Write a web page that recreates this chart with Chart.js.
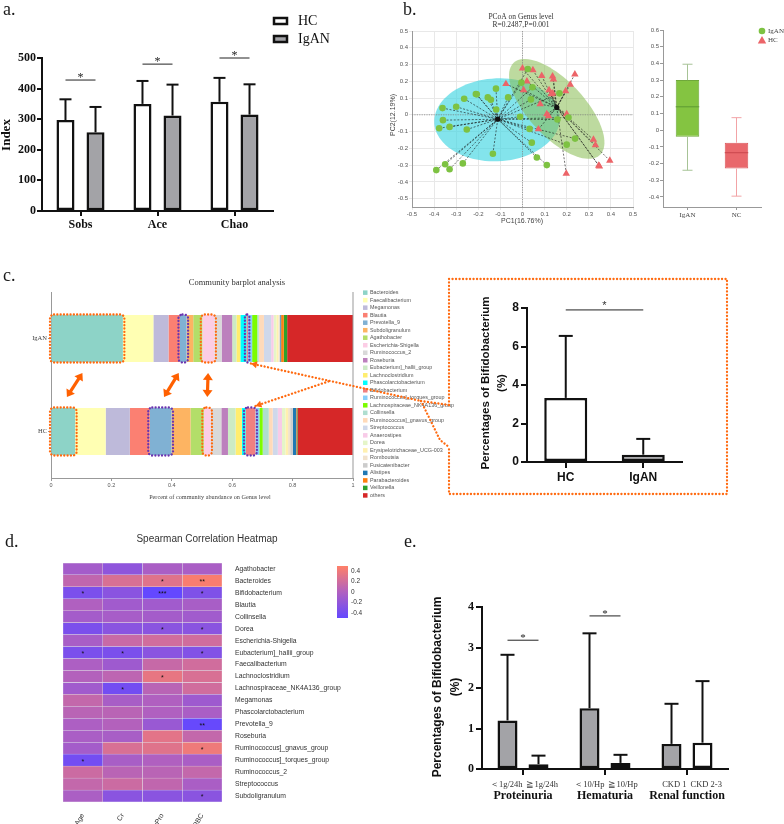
<!DOCTYPE html>
<html><head><meta charset="utf-8"><title>Figure</title>
<script src="https://cdn.jsdelivr.net/npm/chart.js@4.4.1/dist/chart.umd.min.js"></script>
<style>
html,body{margin:0;padding:0;background:#fff;}
#page{position:relative;width:784px;height:824px;overflow:hidden;background:#fff;}
#page canvas{position:absolute;}
.plabel{position:absolute;font-family:'Liberation Serif','Times New Roman',serif;font-size:18px;line-height:18px;color:#1a1a1a;}
</style></head>
<body><div id="page">
<canvas id="cA" width="340" height="245" style="left:0px;top:0px"></canvas>
<canvas id="cB1" width="290" height="235" style="left:360px;top:0px"></canvas>
<canvas id="cB2" width="154" height="235" style="left:630px;top:0px"></canvas>
<canvas id="cC1" width="455" height="230" style="left:0px;top:270px"></canvas>
<canvas id="cC2" width="290" height="230" style="left:445px;top:270px"></canvas>
<canvas id="cD" width="400" height="304" style="left:0px;top:520px"></canvas>
<canvas id="cE" width="384" height="304" style="left:400px;top:520px"></canvas>
<div class="plabel" style="left:3px;top:0px">a.</div>
<div class="plabel" style="left:403px;top:0px">b.</div>
<div class="plabel" style="left:3px;top:266px">c.</div>
<div class="plabel" style="left:5px;top:532px">d.</div>
<div class="plabel" style="left:404px;top:532px">e.</div>
</div>
<script>
// ---------- Panel a: alpha diversity ----------
const alphaCats = ['Sobs', 'Ace', 'Chao'];
const alphaHC = [297, 350, 357];
const alphaHCsd = [365, 425, 435];
const alphaIgAN = [257, 312, 315];
const alphaIgANsd = [340, 413, 414];
const alphaSig = [428, 480, 500];
const alphaTicks = [0, 100, 200, 300, 400, 500];

// ---------- Panel b: PCoA ----------
const iganPC1 = [-0.39,-0.35,-0.33,-0.27,-0.377,-0.36,-0.362,-0.33,-0.30,-0.264,-0.252,-0.211,-0.207,-0.157,-0.143,-0.12,-0.119,-0.134,-0.065,-0.011,-0.005,0.024,0.045,0.038,0.032,0.042,0.065,0.11,0.158,0.167,0.208,0.2,0.238];
const iganPC2 = [-0.33,-0.295,-0.325,-0.29,-0.08,-0.032,0.04,-0.072,0.048,0.096,-0.088,0.124,0.122,0.104,0.09,0.156,0.032,-0.232,0.104,-0.012,0.192,0.273,0.164,0.092,-0.084,-0.166,-0.255,-0.30,-0.028,0.128,-0.016,-0.178,-0.142];
const hcPC1 = [0,0.047,-0.075,0.02,0.005,0.087,0.136,0.14,0.237,0.216,0.195,0.12,0.13,0.137,0.08,0.11,0.118,0.2,0.072,0.321,0.33,0.345,0.348,0.395,0.198];
const hcPC2 = [0.277,0.267,0.184,0.2,0.148,0.232,0.23,0.212,0.242,0.18,0.142,0.148,0.124,0.128,0.064,0.004,-0.008,0.004,-0.086,-0.148,-0.18,-0.303,-0.307,-0.273,-0.35];
const centroidX = [-0.112, 0.155];
const centroidY = [-0.026, 0.044];
const ellipseCX = [-0.115, 0.155];
const ellipseCY = [-0.03, 0.035];
const ellipseRX = [0.285, 0.34];
const ellipseRY = [0.247, 0.14];
const ellipseAngle = [8, -58];
const pcoaXTicks = [-0.5,-0.4,-0.3,-0.2,-0.1,0,0.1,0.2,0.3,0.4,0.5];
const pcoaYTicks = [-0.5,-0.4,-0.3,-0.2,-0.1,0,0.1,0.2,0.3,0.4,0.5];

// ---------- Panel b: box plot of PC1 ----------
const boxGroups = ['IgAN', 'NC'];
const boxMin = [-0.24, -0.395];
const boxQ1 = [-0.04, -0.23];
const boxMed = [0.14, -0.135];
const boxQ3 = [0.30, -0.075];
const boxMax = [0.395, 0.075];
const boxTicks = [-0.4,-0.3,-0.2,-0.1,0,0.1,0.2,0.3,0.4,0.5,0.6];

// ---------- Panel c: community barplot ----------
const genera = ['Bacteroides','Faecalibacterium','Megamonas','Blautia','Prevotella_9','Subdoligranulum','Agathobacter','Escherichia-Shigella','Ruminococcus_2','Roseburia','Eubacterium]_hallii_group','Lachnoclostridium','Phascolarctobacterium','Bifidobacterium','Ruminococcus]_torques_group','Lachnospiraceae_NK4A136_group','Collinsella','Ruminococcus]_gnavus_group','Streptococcus','Anaerostipes','Dorea','Erysipelotrichaceae_UCG-003','Romboutsia','Fusicatenibacter','Alistipes','Parabacteroides','Veillonella','others'];
const iganAbund = [0.238,0.101,0.050,0.038,0.022,0.022,0.030,0.040,0.024,0.035,0.014,0.013,0.020,0.005,0.014,0.017,0.005,0.017,0.024,0.008,0.009,0.007,0.003,0.003,0.003,0.009,0.011,0.218];
const hcAbund = [0.080,0.101,0.080,0.066,0.072,0.063,0.044,0.022,0.036,0.022,0.025,0.021,0.012,0.033,0.013,0.011,0.020,0.013,0.017,0.014,0.011,0.009,0.007,0.009,0.011,0.002,0.002,0.183];
const genusColors = ['#8dd3c7','#ffffb3','#bebada','#fb8072','#80b1d3','#fdb462','#b3de69','#fccde5','#d9d9d9','#bc80bd','#ccebc5','#ffed6f','#00ffff','#f08080','#87cefa','#7cfc00','#afdecf','#ffdab9','#cfd8ea','#f8cbe8','#e5f5c8','#fff0b0','#f1e2cc','#cccccc','#1f78b4','#ff7f0e','#2ca02c','#d62728'];
const commTicks = [0, 0.2, 0.4, 0.6, 0.8, 1];

// ---------- Panel c: Bifidobacterium HC vs IgAN ----------
const bifidoGroups = ['HC', 'IgAN'];
const bifidoMean = [3.33, 0.38];
const bifidoSD = [6.55, 1.2];
const bifidoSig = 7.9;
const bifidoTicks = [0, 2, 4, 6, 8];

// ---------- Panel d: Spearman heatmap ----------
const heatGenera = ['Agathobacter','Bacteroides','Bifidobacterium','Blautia','Collinsella','Dorea','Escherichia-Shigella','Eubacterium]_hallii_group','Faecalibacterium','Lachnoclostridium','Lachnospiraceae_NK4A136_group','Megamonas','Phascolarctobacterium','Prevotella_9','Roseburia','Ruminococcus]_gnavus_group','Ruminococcus]_torques_group','Ruminococcus_2','Streptococcus','Subdoligranulum'];
const heatVars = ['Age', 'Cr', 'uPro', 'uRBC'];
const corrAge  = [-0.08, 0.10,-0.35, 0.00,-0.08,-0.35,-0.05,-0.35,-0.02, 0.02,-0.10, 0.12, 0.06,-0.02,-0.04,-0.08,-0.40, 0.17, 0.12,-0.03];
const corrCr   = [-0.22, 0.25,-0.25,-0.10,-0.06,-0.25, 0.15,-0.35,-0.12, 0.08,-0.40,-0.05, 0.06, 0.02,-0.05, 0.25,-0.05, 0.06, 0.17,-0.25];
const corrUPro = [-0.04, 0.30,-0.50,-0.10,-0.08,-0.25, 0.20,-0.25, 0.14, 0.35, 0.06, 0.00, 0.00,-0.15, 0.32, 0.30, 0.00, 0.06, 0.10,-0.25];
const corrURBC = [-0.04, 0.46,-0.32,-0.05,-0.10,-0.25, 0.20,-0.30, 0.20, 0.25, 0.20,-0.12,-0.04,-0.48, 0.12, 0.40,-0.04, 0.12,-0.04,-0.25];
const sigAge  = ['','','*','','','','','*','','','','','','','','','*','','',''];
const sigCr   = ['','','','','','','','*','','','*','','','','','','','','',''];
const sigUPro = ['','*','***','','','*','','','','*','','','','','','','','','',''];
const sigURBC = ['','**','*','','','*','','*','','','','','','**','','*','','','','*'];
const cbarTicks = [0.4, 0.2, 0, -0.2, -0.4];

// ---------- Panel e: Bifidobacterium by clinical subgroup ----------
const eGroups = ['Proteinuria', 'Hematuria', 'Renal function'];
const eLowLabels = ['\uFF1C1g/24h', '\uFF1C10/Hp', 'CKD 1'];
const eHighLabels = ['\u22671g/24h', '\u226710/Hp', 'CKD 2-3'];
const eLowMean = [1.2, 1.5, 0.62];
const eLowSD = [2.82, 3.35, 1.61];
const eHighMean = [0.12, 0.15, 0.65];
const eHighSD = [0.33, 0.35, 2.17];
const eSig = [3.18, 3.78, null];
const eTicks = [0, 1, 2, 3, 4];

// ================= helpers =================
const SERIF = "'Liberation Serif','Times New Roman',serif";
const SANS = "'Liberation Sans',Arial,sans-serif";
function fmt1(v){ return String(Math.round(v*10)/10); }
function drawText(ctx,s,x,y,font,color,align,base,rot){
  ctx.save(); ctx.translate(x,y); if(rot) ctx.rotate(rot);
  ctx.font=font; ctx.fillStyle=color; ctx.textAlign=align||'center'; ctx.textBaseline=base||'middle';
  ctx.fillText(s,0,0); ctx.restore();
}
function line(ctx,x1,y1,x2,y2,color,w,dash){
  ctx.save(); ctx.strokeStyle=color; ctx.lineWidth=w; if(dash) ctx.setLineDash(dash);
  ctx.beginPath(); ctx.moveTo(x1,y1); ctx.lineTo(x2,y2); ctx.stroke(); ctx.restore();
}
function errBar(ctx,x,y0,y1,cap,w,color){
  line(ctx,x,y0,x,y1,color,w); line(ctx,x-cap,y1,x+cap,y1,color,w);
}
function corrColor(v){
  const stops=[[-0.5,[100,72,255]],[0,[176,96,192]],[0.5,[255,128,104]]];
  v=Math.max(-0.5,Math.min(0.5,v));
  const a=v>0?stops[1]:stops[0], b=v>0?stops[2]:stops[1];
  const t=(v-a[0])/(b[0]-a[0]);
  const c=a[1].map((x,k)=>Math.round(x+(b[1][k]-x)*t));
  return 'rgb('+c[0]+','+c[1]+','+c[2]+')';
}
function head(ctx,x,y,ang,hl,hw){
  ctx.beginPath(); ctx.moveTo(x,y);
  ctx.lineTo(x-hl*Math.cos(ang)+hw*Math.sin(ang), y-hl*Math.sin(ang)-hw*Math.cos(ang));
  ctx.lineTo(x-hl*Math.cos(ang)-hw*Math.sin(ang), y-hl*Math.sin(ang)+hw*Math.cos(ang));
  ctx.closePath(); ctx.fill();
}
function dblArrow(ctx,x1,y1,x2,y2,color){
  const ang=Math.atan2(y2-y1,x2-x1), hl=7, hw=5;
  ctx.save(); ctx.strokeStyle=color; ctx.fillStyle=color; ctx.lineWidth=3.2;
  ctx.beginPath(); ctx.moveTo(x1+Math.cos(ang)*hl*0.7,y1+Math.sin(ang)*hl*0.7);
  ctx.lineTo(x2-Math.cos(ang)*hl*0.7,y2-Math.sin(ang)*hl*0.7); ctx.stroke();
  head(ctx,x2,y2,ang,hl,hw); head(ctx,x1,y1,ang+Math.PI,hl,hw); ctx.restore();
}
function dotRect(ctx,x0,y0,x1,y1,color,r){
  ctx.save(); ctx.strokeStyle=color; ctx.lineWidth=2.3; ctx.lineCap='round'; ctx.setLineDash([0.1,3.2]);
  ctx.beginPath(); ctx.roundRect(x0,y0,x1-x0,y1-y0,r); ctx.stroke(); ctx.restore();
}
function dotLine(ctx,pts,color){
  ctx.save(); ctx.strokeStyle=color; ctx.lineWidth=2.3; ctx.lineCap='round'; ctx.setLineDash([0.1,3.4]);
  ctx.beginPath(); ctx.moveTo(pts[0][0],pts[0][1]); for(let i=1;i<pts.length;i++) ctx.lineTo(pts[i][0],pts[i][1]);
  ctx.stroke(); ctx.restore();
}
function fixedTicks(arr){ return function(s){ s.ticks = arr.map(v=>({value:v})); }; }
const base = {responsive:false, maintainAspectRatio:false, animation:false, devicePixelRatio:1,
  plugins:{legend:{display:false}, tooltip:{enabled:false}}};
function opts(extra){ return Object.assign({}, base, extra); }
const ORANGE = '#ff6a10', PURPLE = '#6a35b0';

// ================= Panel a =================
const plugA = {id:'plugA',
  afterDatasetsDraw(chart){
    const ctx=chart.ctx, ys=chart.scales.y;
    [alphaHCsd, alphaIgANsd].forEach((sd,d)=>{
      chart.getDatasetMeta(d).data.forEach((el,i)=>errBar(ctx,el.x,el.y,ys.getPixelForValue(sd[i]),6,2,'#111'));
    });
    alphaSig.forEach((v,i)=>{
      const a=chart.getDatasetMeta(0).data[i], b=chart.getDatasetMeta(1).data[i];
      const py=ys.getPixelForValue(v);
      line(ctx,a.x,py,b.x,py,'#222',1);
      drawText(ctx,'*',(a.x+b.x)/2,py-2,'12px '+SERIF,'#222','center','middle');
    });
  },
  afterDraw(chart){
    const ctx=chart.ctx;
    const items=[['HC','#ffffff'],['IgAN','#a3a3a7']];
    items.forEach((it,i)=>{
      const y=21+i*18;
      ctx.save(); ctx.fillStyle=it[1]; ctx.strokeStyle='#111'; ctx.lineWidth=2.5;
      ctx.fillRect(274,y-3,13,6); ctx.strokeRect(274,y-3,13,6); ctx.restore();
      drawText(ctx,it[0],298,y+0.5,'14px '+SERIF,'#111','left','middle');
    });
    drawText(ctx,'Index',7,135,'bold 13px '+SERIF,'#111','center','middle',-Math.PI/2);
  }
};
new Chart(document.getElementById('cA'), {
  type:'bar',
  data:{labels:alphaCats, datasets:[
    {label:'HC', data:alphaHC, backgroundColor:'#ffffff', borderColor:'#111', borderWidth:2.5, borderSkipped:false, categoryPercentage:0.78, barPercentage:0.6},
    {label:'IgAN', data:alphaIgAN, backgroundColor:'#a3a3a7', borderColor:'#111', borderWidth:2.5, borderSkipped:false, categoryPercentage:0.78, barPercentage:0.6}
  ]},
  options:opts({
    layout:{padding:{top:58,right:67,left:0,bottom:0}},
    scales:{
      x:{grid:{drawOnChartArea:false, offset:false, color:'#111', lineWidth:2, tickLength:5}, border:{color:'#111', width:2},
         ticks:{font:{family:SERIF, weight:'bold', size:12}, color:'#111', padding:2}, afterFit(s){s.height=34;}},
      y:{min:0, max:500, afterBuildTicks:fixedTicks(alphaTicks), grid:{drawOnChartArea:false, color:'#111', lineWidth:2, tickLength:5},
         border:{color:'#111', width:2}, ticks:{font:{family:SERIF, weight:'bold', size:12}, color:'#111', padding:1}, afterFit(s){s.width=42;}}
    }
  }),
  plugins:[plugA]
});

// ================= Panel b: PCoA =================
const ellipseFill = ['rgba(64,214,226,0.65)', 'rgba(134,188,80,0.55)'];
const plugB1 = {id:'plugB1',
  beforeDatasetsDraw(chart){
    const ctx=chart.ctx, xs=chart.scales.x, ys=chart.scales.y, ca=chart.chartArea;
    ellipseCX.forEach((cx,g)=>{
      const th=ellipseAngle[g]*Math.PI/180;
      ctx.save(); ctx.beginPath();
      for(let s=0;s<=90;s++){
        const t=s/90*2*Math.PI;
        const dx=ellipseRX[g]*Math.cos(t)*Math.cos(th)-ellipseRY[g]*Math.sin(t)*Math.sin(th);
        const dy=ellipseRX[g]*Math.cos(t)*Math.sin(th)+ellipseRY[g]*Math.sin(t)*Math.cos(th);
        const px=xs.getPixelForValue(cx+dx), py=ys.getPixelForValue(ellipseCY[g]+dy);
        if(s) ctx.lineTo(px,py); else ctx.moveTo(px,py);
      }
      ctx.closePath(); ctx.fillStyle=ellipseFill[g]; ctx.fill(); ctx.restore();
    });
    const x0=xs.getPixelForValue(0), y0=ys.getPixelForValue(0);
    line(ctx,x0,ca.top,x0,ca.bottom,'#888',0.8,[1.2,1.2]);
    line(ctx,ca.left,y0,ca.right,y0,'#888',0.8,[1.2,1.2]);
    [[iganPC1,iganPC2],[hcPC1,hcPC2]].forEach((g,k)=>{
      const cx=xs.getPixelForValue(centroidX[k]), cy=ys.getPixelForValue(centroidY[k]);
      g[0].forEach((x,i)=>line(ctx,xs.getPixelForValue(x),ys.getPixelForValue(g[1][i]),cx,cy,'rgba(20,20,20,0.85)',0.7,[2,1.6]));
      ctx.save(); ctx.fillStyle='#111'; ctx.beginPath(); ctx.arc(cx,cy,2.6,0,Math.PI*2); ctx.fill(); ctx.restore();
    });
  },
  afterDraw(chart){
    const ctx=chart.ctx;
    drawText(ctx,'PCoA on Genus level',161,17,'7.5px '+SERIF,'#333','center','middle');
    drawText(ctx,'R=0.2487,P=0.001',161,25,'7.5px '+SERIF,'#333','center','middle');
    drawText(ctx,'PC1(16.76%)',162,221,'7px '+SANS,'#444','center','middle');
    drawText(ctx,'PC2(12.19%)',33,115,'7px '+SANS,'#444','center','middle',-Math.PI/2);
  }
};
new Chart(document.getElementById('cB1'), {
  type:'scatter',
  data:{datasets:[
    {label:'IgAN', data:iganPC1.map((x,i)=>({x:x,y:iganPC2[i]})), pointStyle:'circle', pointRadius:3.3, backgroundColor:'#7dc242', borderColor:'#7dc242', borderWidth:0},
    {label:'HC', data:hcPC1.map((x,i)=>({x:x,y:hcPC2[i]})), pointStyle:'triangle', pointRadius:4.3, backgroundColor:'#ec6468', borderColor:'#ec6468', borderWidth:0}
  ]},
  options:opts({
    layout:{padding:{top:31,right:17,left:0,bottom:0}},
    scales:{
      x:{type:'linear', min:-0.5, max:0.5, afterBuildTicks:fixedTicks(pcoaXTicks), grid:{color:'#e8e8e8', tickLength:3},
         border:{color:'#999'}, ticks:{font:{family:SANS,size:6}, color:'#555', padding:1, callback:v=>fmt1(v)}, afterFit(s){s.height=28;}},
      y:{type:'linear', min:-0.55, max:0.5, afterBuildTicks:fixedTicks(pcoaYTicks), grid:{color:'#e8e8e8', tickLength:3},
         border:{color:'#999'}, ticks:{font:{family:SANS,size:6}, color:'#555', padding:1, callback:v=>fmt1(v)}, afterFit(s){s.width=52;}}
    }
  }),
  plugins:[plugB1]
});

// ================= Panel b: box plot =================
const whiskerColors = ['#a7c396', '#f2a3a6'];
const medianColors = ['#5d9a33', '#c9464c'];
const plugB2 = {id:'plugB2',
  afterDatasetsDraw(chart){
    const ctx=chart.ctx, ys=chart.scales.y;
    chart.getDatasetMeta(0).data.forEach((el,i)=>{
      const x=el.x, w=el.width;
      const yMax=ys.getPixelForValue(boxMax[i]), yQ3=ys.getPixelForValue(boxQ3[i]);
      const yQ1=ys.getPixelForValue(boxQ1[i]), yMin=ys.getPixelForValue(boxMin[i]), yMed=ys.getPixelForValue(boxMed[i]);
      errBar(ctx,x,yQ3,yMax,5,1,whiskerColors[i]);
      errBar(ctx,x,yQ1,yMin,5,1,whiskerColors[i]);
      line(ctx,x-w/2,yMed,x+w/2,yMed,medianColors[i],1);
    });
  },
  afterDraw(chart){
    const ctx=chart.ctx;
    ctx.save(); ctx.fillStyle='#7dc242'; ctx.beginPath(); ctx.arc(132,31,3.3,0,Math.PI*2); ctx.fill();
    ctx.fillStyle='#ec6468'; ctx.beginPath(); ctx.moveTo(132,36); ctx.lineTo(136.2,43.5); ctx.lineTo(127.8,43.5); ctx.closePath(); ctx.fill(); ctx.restore();
    drawText(ctx,'IgAN',138,31,'7px '+SERIF,'#444','left','middle');
    drawText(ctx,'HC',138,40.5,'7px '+SERIF,'#444','left','middle');
  }
};
new Chart(document.getElementById('cB2'), {
  type:'bar',
  data:{labels:boxGroups, datasets:[{data:boxQ1.map((q,i)=>[q,boxQ3[i]]), backgroundColor:['#84c441','#e9686c'],
    borderColor:['#6fa83a','#d9585c'], borderWidth:1, borderSkipped:false, barPercentage:0.48, categoryPercentage:1}]},
  options:opts({
    layout:{padding:{top:30,right:23,left:0,bottom:0}},
    scales:{
      x:{grid:{drawOnChartArea:false, offset:false, color:'#999', tickLength:3}, border:{color:'#999'},
         ticks:{font:{family:SERIF,size:7}, color:'#444', padding:1}, afterFit(s){s.height=28;}},
      y:{min:-0.46, max:0.6, afterBuildTicks:fixedTicks(boxTicks), grid:{drawOnChartArea:false, color:'#999', tickLength:3},
         border:{color:'#999'}, ticks:{font:{family:SANS,size:6}, color:'#555', padding:1, callback:v=>fmt1(v)}, afterFit(s){s.width=33;}}
    }
  }),
  plugins:[plugB2]
});

// ================= Panel c: community barplot =================
function seg(chart,k,j){
  const el=chart.getDatasetMeta(k).data[j];
  return {x0:Math.min(el.base,el.x), x1:Math.max(el.base,el.x), y0:el.y-el.height/2, y1:el.y+el.height/2};
}
const highlightIdx = [0, 4, 7, 13];
const highlightCol = [ORANGE, PURPLE, ORANGE, PURPLE];
const arrowIdx = [0, 4, 7];
const plugC1 = {id:'plugC1',
  afterDraw(chart){
    const ctx=chart.ctx, ca=chart.chartArea;
    line(ctx,ca.right,ca.top,ca.right,ca.bottom,'#999',1);
    drawText(ctx,'Community barplot analysis',237,13,'8.5px '+SERIF,'#333','center','middle');
    drawText(ctx,'Percent of community abundance on Genus level',210,227,'6.2px '+SERIF,'#444','center','middle');
    genera.forEach((g,i)=>{
      const y=22.7+i*7.51;
      ctx.save(); ctx.fillStyle=genusColors[i]; ctx.fillRect(363,y-2.3,4.5,4.5); ctx.restore();
      drawText(ctx,g,370,y,'5.4px '+SANS,'#555','left','middle');
    });
    highlightIdx.forEach((k,n)=>{
      [0,1].forEach(j=>{
        const s=seg(chart,k,j);
        dotRect(ctx,s.x0-1.5,s.y0-0.5,s.x1+1.5,s.y1+0.5,highlightCol[n],4);
      });
    });
    arrowIdx.forEach(k=>{
      const a=seg(chart,k,0), b=seg(chart,k,1);
      const xi=(a.x0+a.x1)/2, xh=(b.x0+b.x1)/2;
      dblArrow(ctx,xh+(xi-xh)*0.8,a.y1+11,xh+(xi-xh)*0.15,b.y0-11,'#ff6000');
    });
    const bi=seg(chart,13,0), bh=seg(chart,13,1);
    const tipI=[bi.x1+3,bi.y1+1.5], tipH=[bh.x1,bh.y0-2];
    const J1=[421,131];
    dotLine(ctx,[tipI,J1],ORANGE);
    const t=(330-tipI[0])/(J1[0]-tipI[0]);
    const J2=[330,tipI[1]+(J1[1]-tipI[1])*t];
    dotLine(ctx,[tipH,J2],ORANGE);
    dotLine(ctx,[J1,[449,135]],ORANGE);
    dotLine(ctx,[J1,[440,170],[449,177]],ORANGE);
    ctx.save(); ctx.fillStyle=ORANGE;
    head(ctx,tipI[0],tipI[1],Math.atan2(tipI[1]-J1[1],tipI[0]-J1[0]),6,3.5);
    head(ctx,tipH[0],tipH[1],Math.atan2(tipH[1]-J2[1],tipH[0]-J2[0]),6,3.5);
    ctx.restore();
  }
};
new Chart(document.getElementById('cC1'), {
  type:'bar',
  data:{labels:['IgAN','HC'], datasets:genera.map((g,k)=>({label:g, data:[iganAbund[k], hcAbund[k]], backgroundColor:genusColors[k],
    borderWidth:0, barPercentage:1, categoryPercentage:0.505}))},
  options:opts({
    indexAxis:'y',
    layout:{padding:{top:22,right:102,left:0,bottom:0}},
    scales:{
      x:{stacked:true, min:0, max:1, afterBuildTicks:fixedTicks(commTicks), grid:{drawOnChartArea:false, color:'#999', tickLength:3},
         border:{color:'#999'}, ticks:{font:{family:SANS,size:5.5}, color:'#555', padding:1, callback:v=>fmt1(v)}, afterFit(s){s.height=22;}},
      y:{stacked:true, grid:{drawOnChartArea:false, offset:false, color:'#999', tickLength:3}, border:{color:'#999'},
         ticks:{font:{family:SERIF,size:6.5}, color:'#444', padding:1}, afterFit(s){s.width=51;}}
    }
  }),
  plugins:[plugC1]
});

// ================= Panel c: Bifidobacterium inset =================
const plugC2 = {id:'plugC2',
  afterDatasetsDraw(chart){
    const ctx=chart.ctx, ys=chart.scales.y, meta=chart.getDatasetMeta(0);
    meta.data.forEach((el,i)=>errBar(ctx,el.x,el.y,ys.getPixelForValue(bifidoSD[i]),7,2,'#111'));
    const py=ys.getPixelForValue(bifidoSig), a=meta.data[0], b=meta.data[1];
    line(ctx,a.x,py,b.x,py,'#222',1);
    drawText(ctx,'*',(a.x+b.x)/2,py-4,'11px '+SANS,'#333','center','middle');
  },
  afterDraw(chart){
    const ctx=chart.ctx;
    drawText(ctx,'Percentages of Bifidobacterium',41,113,'bold 11.5px '+SANS,'#111','center','middle',-Math.PI/2);
    drawText(ctx,'(%)',57,113,'bold 11.5px '+SANS,'#111','center','middle',-Math.PI/2);
    dotLine(ctx,[[4,135],[4,9],[282,9],[282,224],[4,224],[4,177]],ORANGE);
  }
};
new Chart(document.getElementById('cC2'), {
  type:'bar',
  data:{labels:bifidoGroups, datasets:[{data:bifidoMean, backgroundColor:['#ffffff','#a3a3a7'], borderColor:'#111', borderWidth:2.5,
    borderSkipped:false, barPercentage:0.555, categoryPercentage:1}]},
  options:opts({
    layout:{padding:{top:38,right:53,left:0,bottom:0}},
    scales:{
      x:{grid:{drawOnChartArea:false, offset:false, color:'#111', lineWidth:2, tickLength:6}, border:{color:'#111', width:2},
         ticks:{font:{family:SANS, weight:'bold', size:12}, color:'#111', padding:2}, afterFit(s){s.height=38;}},
      y:{min:0, max:8, afterBuildTicks:fixedTicks(bifidoTicks), grid:{drawOnChartArea:false, color:'#111', lineWidth:2, tickLength:6},
         border:{color:'#111', width:2}, ticks:{font:{family:SANS, weight:'bold', size:12}, color:'#111', padding:2}, afterFit(s){s.width=82;}}
    }
  }),
  plugins:[plugC2]
});

// ================= Panel d: heatmap =================
const corrCols = [corrAge, corrCr, corrUPro, corrURBC];
const sigCols = [sigAge, sigCr, sigUPro, sigURBC];
const plugD = {id:'plugD',
  afterDatasetsDraw(chart){
    const ctx=chart.ctx;
    sigCols.forEach((arr,d)=>{
      chart.getDatasetMeta(d).data.forEach((el,i)=>{
        if(arr[i]) drawText(ctx,arr[i],(el.x+el.base)/2,el.y+1.5,'7px '+SANS,'#111','center','middle');
      });
    });
  },
  afterDraw(chart){
    const ctx=chart.ctx;
    drawText(ctx,'Spearman Correlation Heatmap',207,19,'10px '+SANS,'#333','center','middle');
    const top=46, bot=98, mid=(top+bot)/2, k=(bot-top);
    const gr=ctx.createLinearGradient(0,top,0,bot);
    gr.addColorStop(0,corrColor(0.5)); gr.addColorStop(0.5,corrColor(0)); gr.addColorStop(1,corrColor(-0.5));
    ctx.save(); ctx.fillStyle=gr; ctx.fillRect(337,top,11,bot-top); ctx.restore();
    cbarTicks.forEach(v=>drawText(ctx,fmt1(v),351,mid-v*k,'6.5px '+SANS,'#333','left','middle'));
  }
};
new Chart(document.getElementById('cD'), {
  type:'bar',
  data:{labels:heatGenera, datasets:heatVars.map((v,d)=>({label:v, data:heatGenera.map(()=>1),
    backgroundColor:corrCols[d].map(corrColor), borderColor:'rgba(225,225,230,0.9)', borderWidth:0.5, borderSkipped:false,
    barPercentage:1, categoryPercentage:1}))},
  options:opts({
    indexAxis:'y',
    layout:{padding:{top:43,right:0,left:63,bottom:0}},
    scales:{
      x:{type:'linear', stacked:true, min:0, max:4, afterBuildTicks:fixedTicks([0.5,1.5,2.5,3.5]),
         grid:{display:false}, border:{display:false},
         ticks:{font:{family:SANS,size:7}, color:'#333', padding:2, minRotation:60, maxRotation:60, autoSkip:false,
                callback:(v)=>heatVars[Math.floor(v)]}, afterFit(s){s.height=22;}},
      y:{position:'right', stacked:true, grid:{display:false}, border:{display:false},
         ticks:{font:{family:SANS,size:6.8}, color:'#333', padding:5, autoSkip:false}, afterFit(s){s.width=178;}}
    }
  }),
  plugins:[plugD]
});

// ================= Panel e =================
const plugE = {id:'plugE',
  afterDatasetsDraw(chart){
    const ctx=chart.ctx, ys=chart.scales.y;
    const lo=chart.getDatasetMeta(0).data, hi=chart.getDatasetMeta(1).data;
    lo.forEach((el,i)=>errBar(ctx,el.x,el.y,ys.getPixelForValue(eLowSD[i]),7,2,'#111'));
    hi.forEach((el,i)=>errBar(ctx,el.x,el.y,ys.getPixelForValue(eHighSD[i]),7,2,'#111'));
    eSig.forEach((v,i)=>{
      if(v===null) return;
      const py=ys.getPixelForValue(v);
      line(ctx,lo[i].x,py,hi[i].x,py,'#222',1);
      drawText(ctx,'*',(lo[i].x+hi[i].x)/2,py-2,'11px '+SERIF,'#222','center','middle');
    });
    lo.forEach((el,i)=>drawText(ctx,eLowLabels[i],el.x+15,265,'8.5px '+SERIF,'#333','right','middle'));
    hi.forEach((el,i)=>drawText(ctx,eHighLabels[i],el.x-12,265,'8.5px '+SERIF,'#333','left','middle'));
  },
  afterDraw(chart){
    const ctx=chart.ctx;
    drawText(ctx,'Percentages of Bifidobacterium',38,167,'bold 12px '+SANS,'#111','center','middle',-Math.PI/2);
    drawText(ctx,'(%)',56,167,'bold 12px '+SANS,'#111','center','middle',-Math.PI/2);
  }
};
new Chart(document.getElementById('cE'), {
  type:'bar',
  data:{labels:eGroups, datasets:[
    {label:'low', data:eLowMean, backgroundColor:'#a3a3a7', borderColor:'#111', borderWidth:2.5, borderSkipped:false, categoryPercentage:0.756, barPercentage:0.645},
    {label:'high', data:eHighMean, backgroundColor:'#ffffff', borderColor:'#111', borderWidth:2.5, borderSkipped:false, categoryPercentage:0.756, barPercentage:0.645}
  ]},
  options:opts({
    layout:{padding:{top:87,right:56,left:0,bottom:0}},
    scales:{
      x:{grid:{drawOnChartArea:false, offset:false, color:'#111', lineWidth:2, tickLength:6}, border:{color:'#111', width:2},
         ticks:{font:{family:SERIF, weight:'bold', size:12}, color:'#111', padding:14}, afterFit(s){s.height=55;}},
      y:{min:0, max:4, afterBuildTicks:fixedTicks(eTicks), grid:{drawOnChartArea:false, color:'#111', lineWidth:2, tickLength:6},
         border:{color:'#111', width:2}, ticks:{font:{family:SERIF, weight:'bold', size:12}, color:'#111', padding:2}, afterFit(s){s.width=82;}}
    }
  }),
  plugins:[plugE]
});
</script>
</body></html>
